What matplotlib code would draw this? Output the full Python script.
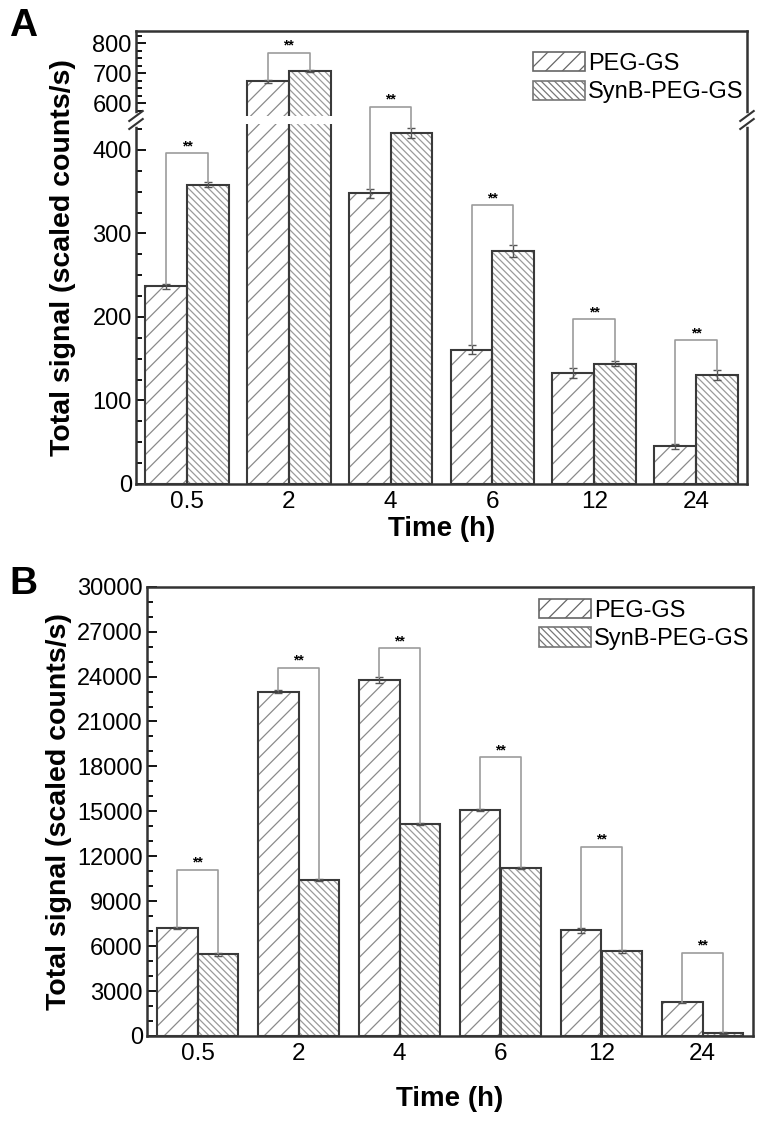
import numpy as np
import matplotlib.pyplot as plt
from matplotlib.patches import Patch
from matplotlib.ticker import FixedLocator

plt.rcParams['font.family'] = ['Liberation Sans', 'DejaVu Sans']
plt.rcParams['hatch.linewidth'] = 0.9

# data
times = ['0.5', '2', '4', '6', '12', '24']

a_peg = [237, 674, 348, 161, 133, 45]
a_peg_err = [3, 5, 5, 5, 6, 3]
a_synb = [358, 708, 420, 279, 144, 131]
a_synb_err = [3, 4, 6, 7, 3, 6]
a_bracket = [396, 768, 589, 334, 197, 172]

b_peg = [7200, 23000, 23800, 15100, 7050, 2250]
b_peg_err = [80, 120, 200, 80, 150, 50]
b_synb = [5450, 10400, 14150, 11200, 5650, 200]
b_synb_err = [100, 60, 60, 80, 100, 40]
b_bracket = [11100, 24600, 25900, 18600, 12650, 5550]

# broken y axis of panel A: data -> pixel-ish positions
A_DATA = [0, 431, 558, 842]
A_PIX = [0, 360, 368, 453.3]


def piecewise(v, xp, fp):
    v = np.asarray(v, dtype=float)
    out = np.interp(v, xp, fp)
    s_lo = (fp[1] - fp[0]) / (xp[1] - xp[0])
    s_hi = (fp[-1] - fp[-2]) / (xp[-1] - xp[-2])
    out = np.where(v < xp[0], fp[0] + (v - xp[0]) * s_lo, out)
    out = np.where(v > xp[-1], fp[-1] + (v - xp[-1]) * s_hi, out)
    return out


EDGE = '#3a3a3a'
HATCH_A = '#8a8a8a'
HATCH_B = '#9a9a9a'
BRK = '#9c9c9c'


def draw_panel(ax, peg, peg_err, synb, synb_err, brackets, w, leg_y):
    x = np.arange(len(times))
    xl = x - w / 2
    xr = x + w / 2
    ax.bar(xl, peg, w, color='white', edgecolor=HATCH_A, hatch='//', lw=0, zorder=2)
    ax.bar(xl, peg, w, fill=False, edgecolor=EDGE, lw=1.5, zorder=3)
    ax.bar(xr, synb, w, color='white', edgecolor=HATCH_B, hatch='\\\\\\\\\\', lw=0, zorder=2)
    ax.bar(xr, synb, w, fill=False, edgecolor=EDGE, lw=1.5, zorder=3)
    ax.errorbar(xl, peg, yerr=peg_err, fmt='none', ecolor='#555555', elinewidth=1,
                capsize=3, capthick=1, zorder=4)
    ax.errorbar(xr, synb, yerr=synb_err, fmt='none', ecolor='#555555', elinewidth=1,
                capsize=3, capthick=1, zorder=4)
    for i in range(len(times)):
        y0 = peg[i] + peg_err[i]
        y1 = synb[i] + synb_err[i]
        h = brackets[i]
        ax.plot([xl[i], xl[i], xr[i], xr[i]], [y0, h, h, y1], color=BRK, lw=1.2, zorder=6)
        ax.annotate('**', (x[i], h), xytext=(0, 0), textcoords='offset points',
                    ha='center', va='bottom', fontsize=10, fontweight='bold', zorder=6)
    ax.set_xlim(-0.5, len(times) - 0.5)
    ax.set_xticks(x)
    ax.set_xticklabels(times)
    ax.tick_params(axis='x', length=0, labelsize=17.5, pad=5)
    ax.tick_params(axis='y', which='both', direction='in', labelsize=17, pad=3,
                   width=1.3, right=False, top=False)
    ax.tick_params(axis='y', which='major', length=7)
    ax.tick_params(axis='y', which='minor', length=4)
    for s in ax.spines.values():
        s.set_linewidth(1.8)
        s.set_color('#333333')
    ax.set_ylabel('Total signal (scaled counts/s)', fontsize=20.5, fontweight='bold')
    handles = [Patch(facecolor='white', edgecolor='#666666', hatch='//', lw=1.2),
               Patch(facecolor='white', edgecolor='#777777', hatch='\\\\\\\\\\', lw=1.2)]
    ax.legend(handles, ['PEG-GS', 'SynB-PEG-GS'], loc='upper right', frameon=False,
              fontsize=17, handlelength=2.2, handleheight=0.9, handletextpad=0.15,
              labelspacing=0.25, borderaxespad=0.2, bbox_to_anchor=(1.018, leg_y))


fig = plt.figure(figsize=(7.69, 11.23), dpi=100)

# ---- panel A ----
axA = fig.add_axes([136 / 769, 1 - 484 / 1123, 611 / 769, 453.3 / 1123])
axA.set_yscale('function', functions=(lambda v: piecewise(v, A_DATA, A_PIX),
                                      lambda p: piecewise(p, A_PIX, A_DATA)))
draw_panel(axA, a_peg, a_peg_err, a_synb, a_synb_err, a_bracket, 0.41, 0.985)
axA.set_ylim(0, 842)
axA.yaxis.set_major_locator(FixedLocator([0, 100, 200, 300, 400, 600, 700, 800]))
axA.yaxis.set_minor_locator(FixedLocator(list(range(25, 426, 25)) + list(range(575, 826, 25))))
axA.axhspan(A_DATA[1], A_DATA[2], color='white', lw=0, zorder=5)
axA.set_xlabel('Time (h)', fontsize=20, fontweight='bold', labelpad=2)
axA.yaxis.set_label_coords(-0.098, 0.5)

g0 = A_PIX[1] / A_PIX[3]
g1 = A_PIX[2] / A_PIX[3]
for xs in (0, 1):
    axA.plot([xs, xs], [g0, g1], transform=axA.transAxes, color='white', lw=4,
             clip_on=False, zorder=7)
    for gy in (g0, g1):
        axA.plot([xs - 0.011, xs + 0.011], [gy - 0.011, gy + 0.011],
                 transform=axA.transAxes, color='#333333', lw=1.5, clip_on=False, zorder=8)

# ---- panel B ----
axB = fig.add_axes([147 / 769, 1 - 1036 / 1123, 606 / 769, 449.3 / 1123])
draw_panel(axB, b_peg, b_peg_err, b_synb, b_synb_err, b_bracket, 0.40, 1.005)
axB.set_ylim(0, 30000)
axB.yaxis.set_major_locator(FixedLocator(list(range(0, 30001, 3000))))
axB.yaxis.set_minor_locator(FixedLocator(list(range(0, 30001, 1000))))
axB.set_xlabel('Time (h)', fontsize=20, fontweight='bold', labelpad=15)
axB.yaxis.set_label_coords(-0.124, 0.5)

fig.text(0.012, 1 - 8 / 1123, 'A', fontsize=28, fontweight='bold', va='top', ha='left')
fig.text(0.012, 1 - 566 / 1123, 'B', fontsize=28, fontweight='bold', va='top', ha='left')

fig.savefig('out.png', dpi=100)
